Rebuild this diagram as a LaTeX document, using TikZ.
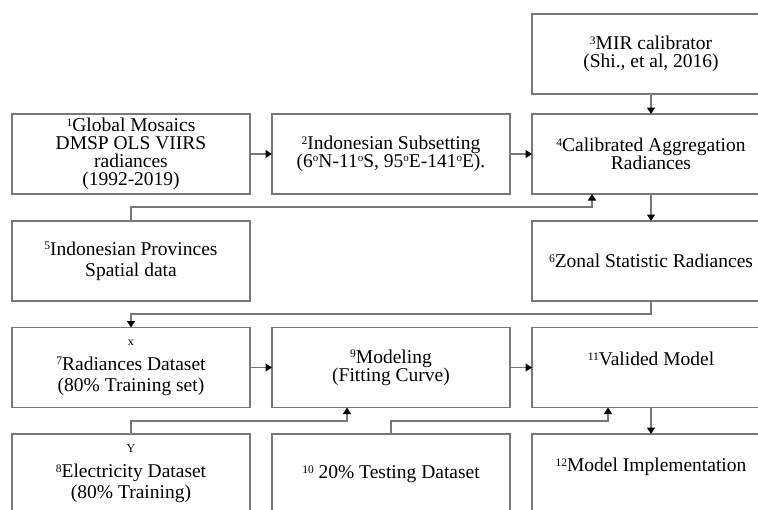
\documentclass[tikz,border=0pt]{standalone}
\usepackage{fontspec}
\setmainfont{Liberation Serif}
\usetikzlibrary{arrows.meta}
\newcommand\supnum[1]{\raisebox{0.27em}{\fontsize{11.5}{11.5}\selectfont #1}}
\newcommand\degr{\raisebox{0.3em}{\fontsize{11}{11}\selectfont o}}
\newcommand\smalllbl[1]{{\fontsize{12}{12}\selectfont #1}}
\definecolor{linegray}{RGB}{120,120,120}
\begin{document}
\begin{tikzpicture}[x=1pt,y=-1pt,
  box/.style={draw=linegray, line width=1.1pt, rectangle, minimum width=238pt, minimum height=80pt,
    inner sep=0pt, outer sep=0pt, align=center, font=\fontsize{19.5}{18}\selectfont},
  wide/.style={font=\fontsize{19.5}{21}\selectfont},
  conn/.style={draw=linegray, line width=1.1pt},
  arr/.style={conn, -{Triangle[width=8pt,length=6.5pt,fill=black,color=black]}}]
\clip (0,0) rectangle (758,509);
\fill[white] (0,0) rectangle (758,509);

\node[box] (n3) at (651,54) {\supnum{3}MIR calibrator\\(Shi., et al, 2016)};
\node[box] (n1) at (131,154) {\supnum{1}Global Mosaics\\DMSP OLS VIIRS\\radiances\\(1992-2019)};
\node[box] (n2) at (391,154) {\supnum{2}Indonesian Subsetting\\(6\degr N-11\degr S, 95\degr E-141\degr E).};
\node[box] (n4) at (651,154) {\supnum{4}Calibrated Aggregation\\Radiances};
\node[box,wide] (n5) at (131,261) {\supnum{5}Indonesian Provinces\\Spatial data};
\node[box] (n6) at (651,261) {\supnum{6}Zonal Statistic Radiances};
\node[box,wide] (n7) at (131,367.5) {\smalllbl{x}\\[4pt]\supnum{7}Radiances Dataset\\(80\% Training set)};
\node[box] (n9) at (391,367.5) {\supnum{9}Modeling\\(Fitting Curve)};
\node[box] (n11) at (651,367.5) {\supnum{11}Valided Model\\\mbox{}};
\node[box,wide] (n8) at (131,474) {\smalllbl{Y}\\[4pt]\supnum{8}Electricity Dataset\\(80\% Training)};
\node[box] (n10) at (391,474) {\supnum{10} 20\% Testing Dataset};
\node[box] (n12) at (651,474) {\supnum{12}Model Implementation\\\mbox{}};

\coordinate (c54) at (592,207);
\coordinate (c67) at (131,314);
\coordinate (c89) at (347,421);
\coordinate (c1011) at (608,421);

\draw[arr] (n1.east) -- (n2.west);
\draw[arr] (n2.east) -- (n4.west);
\draw[arr] (n3.south) -- (n4.north);
\draw[arr] (n5.north) |- (c54) -- (c54 |- n4.south);
\draw[arr] (n4.south) -- (n6.north);
\draw[arr] (n6.south) |- (c67) -- (n7.north);
\draw[arr] (n7.east) -- (n9.west);
\draw[arr] (n9.east) -- (n11.west);
\draw[arr] (n8.north) |- (c89) -- (c89 |- n9.south);
\draw[arr] (n10.north) |- (c1011) -- (c1011 |- n11.south);
\draw[arr] (n11.south) -- (n12.north);
\end{tikzpicture}
\end{document}
